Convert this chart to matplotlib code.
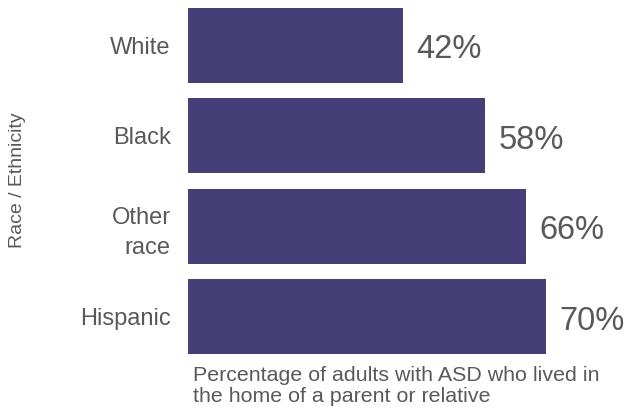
import matplotlib
matplotlib.use("Agg")
import matplotlib.pyplot as plt

categories = ["White", "Black", "Other\nrace", "Hispanic"]
values = [42, 58, 66, 70]
value_labels = ["42%", "58%", "66%", "70%"]

bar_color = "#463f77"
text_color = "#595959"

plt.rcParams['font.family'] = ['Liberation Sans', 'DejaVu Sans']

fig = plt.figure(figsize=(6.26, 4.12), dpi=100)
ax = fig.add_axes([188/626, 1 - 362/412, 430/626, 362/412])

y = list(range(len(categories)))
ax.barh(y, values, height=0.825, color=bar_color)
ax.set_xlim(0, 84)
ax.set_ylim(3.5, -0.5)

for yi, v, lab in zip(y, values, value_labels):
    ax.text(v + 2.6, yi + 0.05, lab, va="center", ha="left", fontsize=23.5, color=text_color)

ax.set_yticks(y)
ax.set_yticklabels(categories, fontsize=17, color=text_color, ha="right", multialignment="right")
for t in ax.get_yticklabels():
    t.set_linespacing(1.5)
ax.tick_params(axis="y", length=0, pad=12.5)
ax.set_xticks([])
for s in ax.spines.values():
    s.set_visible(False)

fig.text(18/626, 1 - 180/412, "Race / Ethnicity", rotation=90, ha="center", va="center",
         fontsize=14, color=text_color)
fig.text(193/626, 1 - 366/412, "Percentage of adults with ASD who lived in\nthe home of a parent or relative",
         ha="left", va="top", fontsize=15.4, color=text_color, linespacing=1.12)

fig.savefig("out.png", dpi=100)
